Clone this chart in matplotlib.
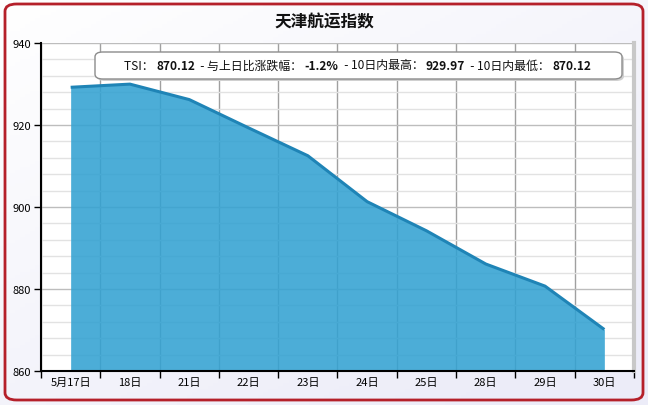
import numpy as np
import matplotlib
matplotlib.use("Agg")
import matplotlib.pyplot as plt
from matplotlib.patches import FancyBboxPatch
from matplotlib.ticker import MultipleLocator, FixedLocator
from matplotlib.colors import LinearSegmentedColormap

plt.rcParams['font.family'] = ['Noto Sans CJK SC', 'DejaVu Sans']

# 数据
dates = ['5月17日', '18日', '21日', '22日', '23日', '24日', '25日', '28日', '29日', '30日']
tsi = [929.2, 929.97, 926.2, 919.3, 912.5, 901.3, 894.2, 886.1, 880.7, 870.12]
tip_labels = ['TSI： ', '  - 与上日比涨跌幅： ', '  - 10日内最高： ', '  - 10日内最低： ']
tip_values = ['870.12', '-1.2%', '929.97', '870.12']

W, H = 648, 406
fig = plt.figure(figsize=(W / 100, H / 100), dpi=100)
fig.patch.set_facecolor('white')

# 背景渐变
bg = fig.add_axes([0, 0, 1, 1], zorder=-10)
gx, gy = np.meshgrid(np.linspace(0, 1, 128), np.linspace(0, 1, 128))
cmap = LinearSegmentedColormap.from_list('bg', ['#ffffff', '#ececf8'])
bg.imshow(np.clip(0.6 * gy + 0.5 * gx, 0, 1), aspect='auto', cmap=cmap,
          extent=[0, 1, 0, 1], origin='upper')
bg.set_axis_off()

# 红色圆角边框
border = FancyBboxPatch((5 / W, 5 / H), 638 / W, 396 / H,
                        boxstyle='round,pad=0,rounding_size=0.018',
                        transform=fig.transFigure, fill=False,
                        edgecolor='#b5202a', linewidth=2, zorder=5)
fig.patches.append(border)

ax = fig.add_axes([41 / W, 1 - 372 / H, 593 / W, 328 / H])
ax.set_facecolor('white')
x = np.arange(len(dates))
ax.fill_between(x, tsi, 860, color='#33a2d2', alpha=0.88, linewidth=0, zorder=2)
ax.plot(x, tsi, color='#1f84b6', linewidth=2.2, zorder=3, solid_capstyle='butt')

ax.set_xlim(-0.5, len(dates) - 0.5)
ax.set_ylim(860, 940)

ax.yaxis.set_major_locator(MultipleLocator(20))
ax.yaxis.set_minor_locator(MultipleLocator(4))
ax.xaxis.set_major_locator(FixedLocator(x))
ax.xaxis.set_minor_locator(FixedLocator(np.arange(-0.5, len(dates), 1)))
ax.set_xticklabels(dates)

ax.tick_params(axis='x', which='major', length=0, labelsize=8, pad=4)
ax.tick_params(axis='x', which='minor', length=5, width=1, color='black', direction='out')
ax.tick_params(axis='y', which='major', length=5, width=1, labelsize=8, pad=2)
ax.tick_params(axis='y', which='minor', length=0)

ax.set_axisbelow(True)
ax.grid(axis='y', which='major', color='#bdbdbd', linewidth=1)
ax.grid(axis='y', which='minor', color='#e2e2e2', linewidth=1)
ax.grid(axis='x', which='minor', color='#a0a0a0', linewidth=1)

ax.spines['left'].set_color('black')
ax.spines['left'].set_linewidth(1.5)
ax.spines['bottom'].set_color('black')
ax.spines['bottom'].set_linewidth(1.5)
ax.spines['top'].set_visible(False)
ax.spines['right'].set_color('#c8c8c8')
ax.spines['right'].set_linewidth(3)

fig.text(0.5, 1 - 22 / H, '天津航运指数', ha='center', va='center',
         fontsize=12, fontweight='bold', color='#111111')

# 提示框
box = FancyBboxPatch((95 / W, 1 - 80 / H), 527 / W, 27 / H,
                     boxstyle='round,pad=0,rounding_size=0.012',
                     transform=fig.transFigure, facecolor='white',
                     edgecolor='#8c8c8c', linewidth=1, zorder=10)
shadow = FancyBboxPatch((97 / W, 1 - 82 / H), 527 / W, 27 / H,
                        boxstyle='round,pad=0,rounding_size=0.012',
                        transform=fig.transFigure, facecolor='#d0d0d0',
                        edgecolor='none', zorder=9)
fig.patches.append(shadow)
fig.patches.append(box)

renderer = fig.canvas.get_renderer()
ty = 1 - 66 / H
texts = []
for lab, val in zip(tip_labels, tip_values):
    for s, wgt in ((lab, 'normal'), (val, 'bold')):
        t = fig.text(0, ty, s, ha='left', va='center', fontsize=8.6,
                     fontweight=wgt, color='#111111', zorder=11)
        texts.append((t, t.get_window_extent(renderer).width))
start = 124 / W
for t, w in texts:
    t.set_x(start)
    start += w / W

fig.savefig('out.png', dpi=100)
